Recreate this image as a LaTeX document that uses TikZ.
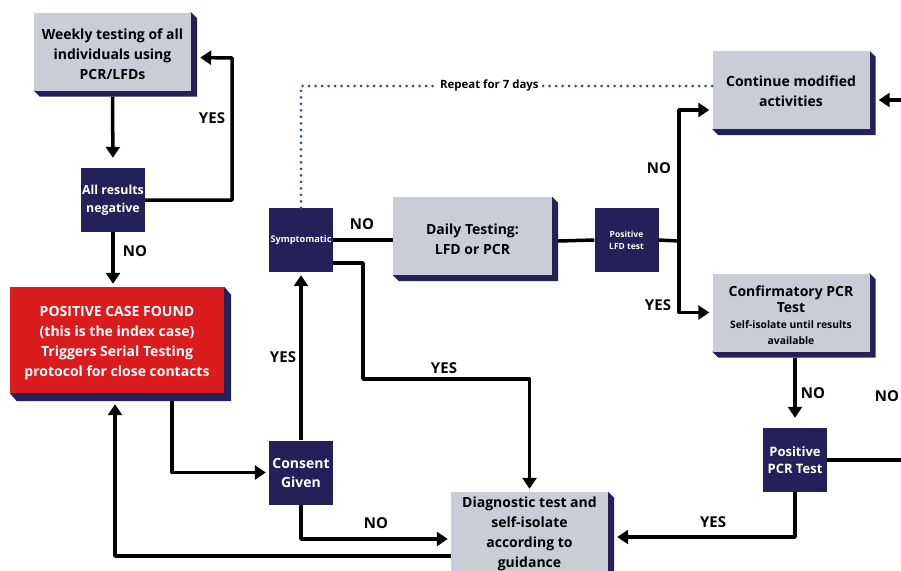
\documentclass[tikz,border=0pt]{standalone}
\usepackage{fontspec}
\setmainfont{Open Sans}
\usetikzlibrary{arrows.meta,calc,backgrounds}
\definecolor{boxgray}{RGB}{201,206,214}
\definecolor{navy}{RGB}{35,32,90}
\definecolor{alarmred}{RGB}{218,28,31}
\definecolor{dotblue}{RGB}{50,80,112}
\newcommand{\boxstrut}{\rule{0pt}{17pt}}

\begin{document}
\begin{tikzpicture}[x=1pt,y=-1pt,
	greybox/.style={fill=boxgray, minimum width=157pt, minimum height=78pt, align=center, inner sep=0pt, font=\bfseries\fontsize{14}{20}\selectfont},
	decision/.style={fill=navy, text=white, minimum width=64pt, minimum height=64pt, align=center, inner sep=0pt, font=\bfseries\fontsize{12.4}{18}\selectfont},
	flow/.style={line width=3.5pt, line join=round},
	arr/.style={flow, -{Triangle[width=14pt,length=11pt]}, shorten >=3pt},
	answer/.style={font=\bfseries\fontsize{15}{15}\selectfont, inner sep=0pt},
	repeatline/.style={dotblue, line width=3pt, line cap=round, dash pattern=on 0pt off 6.5pt}]
	
	\useasboundingbox (0,0) rectangle (901,570);
	\clip (0,0) rectangle (901,570);
	
	% Boxes
	\node[greybox] (weekly) at (112.5,51.5) {\boxstrut Weekly testing of all\\individuals using\\PCR/LFDs};
	\node[decision] (allneg) at (113,200) {All results\\negative};
	\node[greybox, fill=alarmred, text=white, minimum width=214pt, minimum height=106pt] (pos) at (117,340) {\boxstrut POSITIVE CASE FOUND\\(this is the index case)\\Triggers Serial Testing\\protocol for close contacts};
	\node[decision, font=\bfseries\fontsize{14}{19}\selectfont] (consent) at (301,472.5) {Consent\\Given};
	\node[decision, font=\bfseries\fontsize{9.2}{11}\selectfont] (sympt) at (301,240) {Symptomatic};
	\node[greybox, minimum width=159pt] (daily) at (472.5,236) {\boxstrut Daily Testing:\\LFD or PCR};
	\node[decision, font=\bfseries\fontsize{8.5}{12}\selectfont] (lfd) at (626.5,240) {Positive\\LFD test};
	\node[greybox] (cont) at (791,90) {\rule{0pt}{14pt}Continue modified\\activities};
	\node[greybox, font=\bfseries\fontsize{14}{16}\selectfont] (confirm) at (791,312.5) {\boxstrut Confirmatory PCR\\Test\\\fontsize{10.3}{13}\selectfont Self-isolate until results\\\fontsize{10.3}{13}\selectfont available};
	\node[decision, font=\bfseries\fontsize{13}{17}\selectfont] (pcr) at (795,460) {Positive\\PCR Test};
	\node[greybox, minimum height=80pt] (diag) at (529.5,532) {\rule{0pt}{14pt}Diagnostic test and\\self-isolate\\according to\\guidance};
	
	% 3D edges
	\begin{scope}[on background layer]
	\fill[navy] (weekly.north east) -- ++(6,6) -- ($(weekly.south east)+(6,6)$) -- ($(weekly.south west)+(6,6)$) -- (weekly.south west) -- cycle;
	\fill[navy] (pos.north east) -- ++(7,8) -- ($(pos.south east)+(7,8)$) -- ($(pos.south west)+(7,8)$) -- (pos.south west) -- cycle;
	\fill[navy] (daily.north east) -- ++(6,6) -- ($(daily.south east)+(6,6)$) -- ($(daily.south west)+(6,6)$) -- (daily.south west) -- cycle;
	\fill[navy] (cont.north east) -- ++(6,6) -- ($(cont.south east)+(6,6)$) -- ($(cont.south west)+(6,6)$) -- (cont.south west) -- cycle;
	\fill[navy] (confirm.north east) -- ++(6,6) -- ($(confirm.south east)+(6,6)$) -- ($(confirm.south west)+(6,6)$) -- (confirm.south west) -- cycle;
	\fill[navy] (diag.north east) -- ++(6,6) -- ($(diag.south east)+(6,6)$) -- ($(diag.south west)+(6,6)$) -- (diag.south west) -- cycle;
	\end{scope}
	
	% Free ends and bends
	\coordinate (split) at (679,241);
	\coordinate (yesturn) at (363,379);
	\coordinate (fromright) at (901,100);
	\coordinate (toright) at (901,460);
	
	% Connectors
	\draw[arr, shorten >=10pt] ($(weekly.south)+(0,6)$) -- (allneg.north);
	\draw[arr] (allneg.east) -| (232,58) -- ($(weekly.east)+(6,6)$);
	\draw[arr] (allneg.south) -- (allneg.south |- pos.north);
	\draw[arr] ($(pos.south)+(55,8)$) |- (consent.west);
	\draw[arr] (consent.north) -- (sympt.south);
	\draw[arr] (consent.south) |- ($(diag.west)+(0,7)$);
	\draw[arr] ($(diag.west)+(0,24)$) -| ($(pos.south)+(-2,8)$);
	\draw[flow] (sympt.east) -- (sympt.east -| daily.west);
	\draw[flow] ($(daily.east)+(6,5)$) -- (lfd.west);
	\draw[flow] (lfd.east) -- (split);
	\draw[arr] (split) |- ($(cont.west)+(0,20)$);
	\draw[arr] (split) |- (confirm.west);
	\draw[arr] (fromright) -- ($(cont.east)+(6,10)$);
	\draw[arr, shorten >=10pt] ($(confirm.south)+(4,6)$) -- (pcr.north);
	\draw[flow] (pcr.east) -- (toright);
	\draw[arr] (pcr.south) |- ($(diag.east)+(6,5)$);
	\draw[arr] ($(sympt.east)+(0,23)$) -| (yesturn) -| (diag.north);
	\draw[repeatline] (sympt.north) |- node[pos=0.729, fill=white, text=black, font=\bfseries\fontsize{11.4}{12}\selectfont, inner sep=3pt] (repeat) {Repeat for 7 days} ($(cont.west)+(0,-4)$);
	
	% Answers
	\node[answer] (yesweekly) at (212,118) {YES};
	\node[answer] (nopos) at (135,251) {NO};
	\node[answer] (yesconsent) at (283,357) {YES};
	\node[answer] (nosympt) at (362,224) {NO};
	\node[answer] (nolfd) at (659,168) {NO};
	\node[answer] (yeslfd) at (658,305) {YES};
	\node[answer] (yessympt) at (444,368) {YES};
	\node[answer] (noconsent) at (376,523) {NO};
	\node[answer] (yespcr) at (713,522) {YES};
	\node[answer] (noconfirm) at (813,393) {NO};
	\node[answer] (noright) at (887,396) {NO};
	
\end{tikzpicture}
\end{document}
